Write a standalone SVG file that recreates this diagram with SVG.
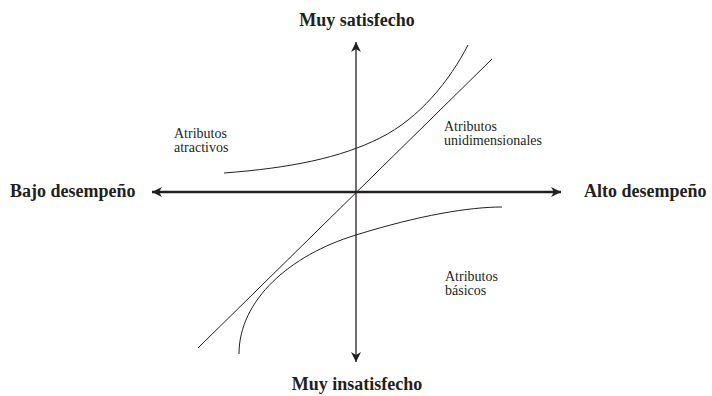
<svg xmlns="http://www.w3.org/2000/svg" width="712" height="396" viewBox="0 0 712 396">
<style>
.t{font-family:"Liberation Serif","Times New Roman",serif;font-weight:bold;font-size:18px;fill:#231f20}
.l{font-family:"Liberation Serif","Times New Roman",serif;font-size:14px;fill:#231f20}
.c{fill:none;stroke:#231f20;stroke-width:1}
</style>
<defs>
<marker id="ah" markerUnits="userSpaceOnUse" markerWidth="12" markerHeight="10" refX="10" refY="5" orient="auto">
<path d="M0,0 L10,5 L0,10 L3,5 Z" fill="#231f20"/>
</marker>
</defs>
<g id="connectors">
<line x1="356" y1="192" x2="152" y2="192" stroke="#231f20" stroke-width="2.5" marker-end="url(#ah)"/>
<line x1="356" y1="192" x2="561" y2="192" stroke="#231f20" stroke-width="2.5" marker-end="url(#ah)"/>
<line x1="356" y1="192" x2="356" y2="42" stroke="#231f20" stroke-width="1.3" marker-end="url(#ah)"/>
<line x1="356" y1="192" x2="356" y2="362" stroke="#231f20" stroke-width="1.3" marker-end="url(#ah)"/>
<line class="c" x1="198" y1="348" x2="492" y2="59"/>
<path class="c" d="M224,173 C290,168 340,158 380,138 C420,118 450,80 468,45"/>
<path class="c" d="M239,354 C239,300 290,255 356,235 C420,215 470,207 502,207"/>
</g>
<g id="top"><text class="t" x="357" y="26" text-anchor="middle">Muy satisfecho</text></g>
<g id="bottom"><text class="t" x="357" y="390" text-anchor="middle">Muy insatisfecho</text></g>
<g id="left"><text class="t" x="10" y="197">Bajo desempeño</text></g>
<g id="right"><text class="t" x="584" y="197">Alto desempeño</text></g>
<g id="atractivos"><text class="l" x="174" y="138">Atributos</text><text class="l" x="174" y="152">atractivos</text></g>
<g id="unidimensionales"><text class="l" x="444" y="131">Atributos</text><text class="l" x="444" y="145">unidimensionales</text></g>
<g id="basicos"><text class="l" x="445" y="281">Atributos</text><text class="l" x="445" y="295">básicos</text></g>
</svg>
